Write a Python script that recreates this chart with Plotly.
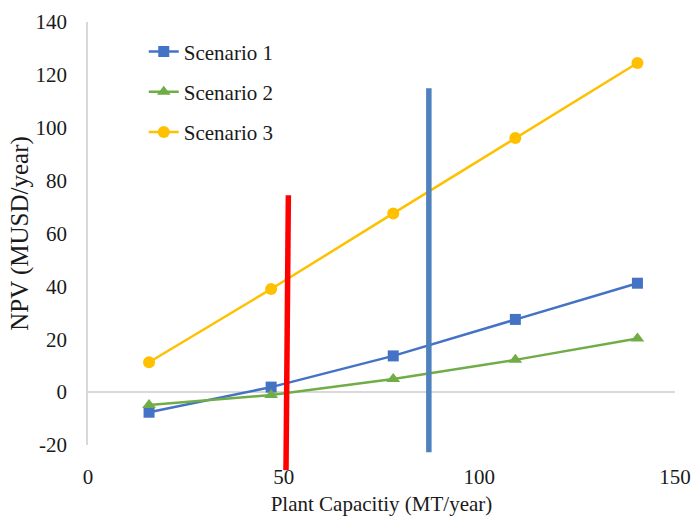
import plotly.graph_objects as go

# Plant capacity (MT/year) and NPV (MUSD/year) per scenario
capacity = [15.6, 46.8, 78.0, 109.2, 140.4]
npv_s1 = [-7.6, 1.9, 13.7, 27.5, 41.2]
npv_s2 = [-4.9, -1.1, 5.0, 12.2, 20.3]
npv_s3 = [11.3, 39.0, 67.6, 96.1, 124.5]

# Capacity markers drawn as vertical bars: (x_bottom, x_top, y_bottom, y_top)
red_marker = (50.6, 51.2, -29.5, 74.5)
blue_marker = (87.1, 87.1, -22.7, 114.9)

x_range = [0, 150]
y_range = [-20, 140]
x_ticks = [0, 50, 100, 150]
y_ticks = list(range(-20, 141, 20))
y_ticktext = [str(v) for v in y_ticks]

font_family = "Liberation Serif, Times New Roman, serif"
text_color = "#1a1a1a"

fig = go.Figure()

series = [
    ("Scenario 1", npv_s1, "#4472C4", "square", 11),
    ("Scenario 2", npv_s2, "#70AD47", "triangle-up", 12),
    ("Scenario 3", npv_s3, "#FFC000", "circle", 12),
]
for name, vals, color, symbol, size in series:
    fig.add_trace(go.Scatter(
        x=capacity, y=vals, name=name, mode="lines+markers",
        line=dict(color=color, width=2.5),
        marker=dict(symbol=symbol, size=size, color=color),
        legendgroup=name,
    ))


def to_domain(v):
    return (v - y_range[0]) / (y_range[1] - y_range[0])


for (x0, x1, y0, y1), color in [(red_marker, "#FF0000"), (blue_marker, "#4F81BD")]:
    fig.add_shape(
        type="line", xref="x", yref="y domain",
        x0=x0, x1=x1, y0=to_domain(y0), y1=to_domain(y1),
        line=dict(color=color, width=5.5),
    )

fig.update_layout(
    width=695, height=519,
    margin=dict(l=88, r=20, t=22, b=74, autoexpand=False),
    paper_bgcolor="white", plot_bgcolor="white",
    font=dict(family=font_family, size=21, color=text_color),
    showlegend=True,
    legend=dict(
        x=0.095, y=0.978, xanchor="left", yanchor="top",
        traceorder="grouped", tracegroupgap=10,
        font=dict(family=font_family, size=21, color=text_color),
        bgcolor="rgba(0,0,0,0)",
    ),
    xaxis=dict(
        range=x_range, tickvals=x_ticks, automargin=False,
        showgrid=False, zeroline=False, showline=False,
        ticks="", ticklen=0, ticklabelstandoff=17,
        tickfont=dict(family=font_family, size=21, color=text_color),
        title=dict(text="Plant Capacitiy (MT/year)", standoff=8,
                   font=dict(family=font_family, size=21, color=text_color)),
    ),
    yaxis=dict(
        range=y_range, tickvals=y_ticks, ticktext=y_ticktext, automargin=False,
        showgrid=False, zeroline=True, zerolinecolor="#D9D9D9", zerolinewidth=1.5,
        showline=True, linecolor="#D9D9D9", linewidth=1.5,
        ticks="", ticklen=0, ticklabelstandoff=15,
        tickfont=dict(family=font_family, size=21, color=text_color),
        title=dict(text="NPV (MUSD/year)", standoff=0,
                   font=dict(family=font_family, size=25, color=text_color)),
    ),
)

fig.write_html("out.html")
